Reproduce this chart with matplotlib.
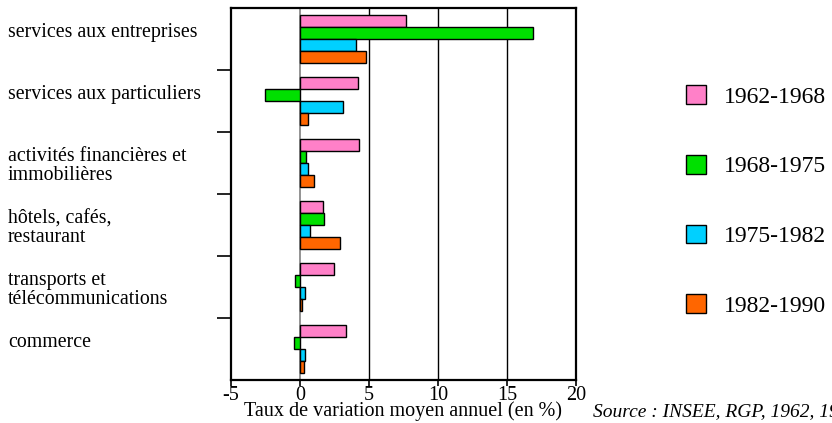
import numpy as np
import matplotlib.pyplot as plt
from matplotlib.transforms import blended_transform_factory

plt.rcParams.update({'font.family': 'Liberation Serif',
                     'font.size': 14,
                     'axes.linewidth': 1.6,
                     })

# data
categories = ['services aux entreprises',
              'services aux particuliers',
              'activités financières et\nimmobilières',
              'hôtels, cafés,\nrestaurant',
              'transports et\ntélécommunications',
              'commerce']
periods = ['1962-1968', '1968-1975', '1975-1982', '1982-1990']
v_1962_1968 = [7.7, 4.2, 4.3, 1.7, 2.5, 3.3]
v_1968_1975 = [16.9, -2.5, 0.45, 1.75, -0.35, -0.4]
v_1975_1982 = [4.05, 3.1, 0.6, 0.7, 0.35, 0.35]
v_1982_1990 = [4.75, 0.6, 1.0, 2.9, 0.12, 0.3]
colors = ['#ff80c8', '#00e000', '#00d0ff', '#ff6600']

series = [v_1962_1968, v_1968_1975, v_1975_1982, v_1982_1990]

fig = plt.figure(figsize=(8.32, 4.23), dpi=100)
ax = fig.add_axes([0.2776, 0.1017, 0.4147, 0.8795])

y = np.arange(len(categories))
h = 0.19
for k, (vals, col, lab) in enumerate(zip(series, colors, periods)):
    ax.barh(y + (k - 1.5) * h, vals, height=h, color=col, edgecolor='black',
            linewidth=1.0, label=lab, zorder=3)

# vertical reference lines
ax.axvline(0, color='#808080', lw=1.2, zorder=2)
for xv in [5, 10, 15]:
    ax.axvline(xv, color='black', lw=1.0, zorder=2)

ax.set_xlim(-5, 20)
ax.set_ylim(len(categories) - 0.5, -0.5)
ax.set_xticks([-5, 0, 5, 10, 15, 20])
ax.set_xticklabels(['-5', '0', '5', '10', '15', '20'], fontsize=14.5)
ax.tick_params(axis='x', length=4, width=1.2, pad=0)
ax.set_yticks(np.arange(0.5, len(categories) - 0.5, 1.0))
ax.set_yticklabels([])
ax.tick_params(axis='y', length=10, width=1.2)
ax.set_xlabel('Taux de variation moyen annuel (en %)', fontsize=14.5, labelpad=-2)

# category labels at the left of the figure
tr = blended_transform_factory(fig.transFigure, ax.transData)
for i, name in enumerate(categories):
    off = 0.05 if '\n' in name else -0.1
    ax.text(8 / 832, i + off, name, transform=tr, ha='left', va='center',
            fontsize=14.3, linespacing=1.0)

fig.legend(loc='center left', bbox_to_anchor=(0.7994, 0.525), frameon=False,
           fontsize=17, labelspacing=2.0, handlelength=0.85, handleheight=0.85,
           handletextpad=0.75)

fig.text(593 / 832, 1 - 412 / 423, 'Source : INSEE, RGP, 1962, 1968, 1975, 1982, 1990',
         fontsize=14, style='italic', va='center', ha='left')

plt.savefig('out.png', dpi=100)
